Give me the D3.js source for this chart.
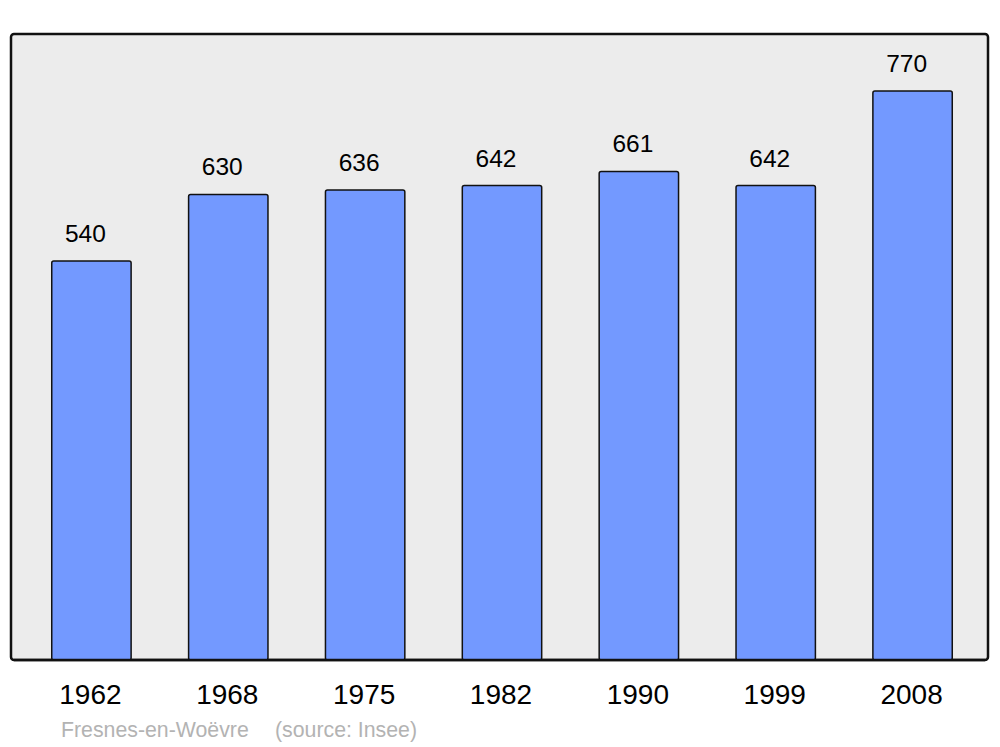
<!DOCTYPE html>
<html>
<head>
<meta charset="utf-8">
<script src="https://cdn.jsdelivr.net/npm/d3@7"></script>
<style>
  html, body { margin: 0; padding: 0; background: #ffffff; }
  svg { display: block; font-family: "Liberation Sans", Arial, sans-serif; }
</style>
</head>
<body>
<svg id="chart" width="1000" height="747"></svg>
<script>
const years = ["1962", "1968", "1975", "1982", "1990", "1999", "2008"];
const population = [540, 630, 636, 642, 661, 642, 770];
const footerCommune = "Fresnes-en-Woëvre";
const footerSource = "(source: Insee)";

const svg = d3.select("#chart");

const panel = { x0: 11, x1: 988, y0: 34, y1: 660 };

svg.append("rect")
  .attr("x", panel.x0).attr("y", panel.y0)
  .attr("width", panel.x1 - panel.x0).attr("height", panel.y1 - panel.y0)
  .attr("rx", 3).attr("ry", 3)
  .attr("fill", "#ececec")
  .attr("stroke", "#111111")
  .attr("stroke-width", 2.5);

const x = d3.scaleBand()
  .domain(years)
  .range([23, 981])
  .paddingInner(0.42)
  .paddingOuter(0.21);

const y = d3.scaleLinear()
  .domain([0, d3.max(population) * 1.1])
  .range([panel.y1, panel.y0]);

const data = years.map((yr, i) => ({ year: yr, value: population[i] }));

svg.append("g").selectAll("rect")
  .data(data)
  .join("rect")
  .attr("x", d => x(d.year))
  .attr("y", d => y(d.value))
  .attr("width", x.bandwidth())
  .attr("height", d => y(0) - y(d.value))
  .attr("rx", 2).attr("ry", 2)
  .attr("fill", "#7399ff")
  .attr("stroke", "#111111")
  .attr("stroke-width", 1.5);

// redraw bottom border over bars
svg.append("line")
  .attr("x1", panel.x0 + 3).attr("x2", panel.x1 - 3)
  .attr("y1", panel.y1).attr("y2", panel.y1)
  .attr("stroke", "#111111").attr("stroke-width", 2.5);

svg.append("g").selectAll("text")
  .data(data)
  .join("text")
  .attr("x", d => x(d.year) + x.bandwidth() / 2 - 6)
  .attr("y", d => y(d.value) - 19)
  .attr("text-anchor", "middle")
  .attr("font-size", 24.5)
  .attr("fill", "#000")
  .text(d => d.value);

const xAxis = d3.axisBottom(x).tickSize(0).tickPadding(0);
const gx = svg.append("g")
  .attr("transform", `translate(0, ${panel.y1})`)
  .call(xAxis);
gx.select(".domain").remove();
gx.selectAll("text")
  .attr("font-size", 28)
  .attr("font-family", "Liberation Sans, Arial, sans-serif")
  .attr("fill", "#000")
  .attr("dy", null)
  .attr("x", -1)
  .attr("y", 44);

svg.append("text")
  .attr("x", 61).attr("y", 737)
  .attr("font-size", 21.3)
  .attr("fill", "#b3b3b3")
  .text(footerCommune);
svg.append("text")
  .attr("x", 275).attr("y", 737)
  .attr("font-size", 21.3)
  .attr("fill", "#b3b3b3")
  .text(footerSource);
</script>
</body>
</html>
